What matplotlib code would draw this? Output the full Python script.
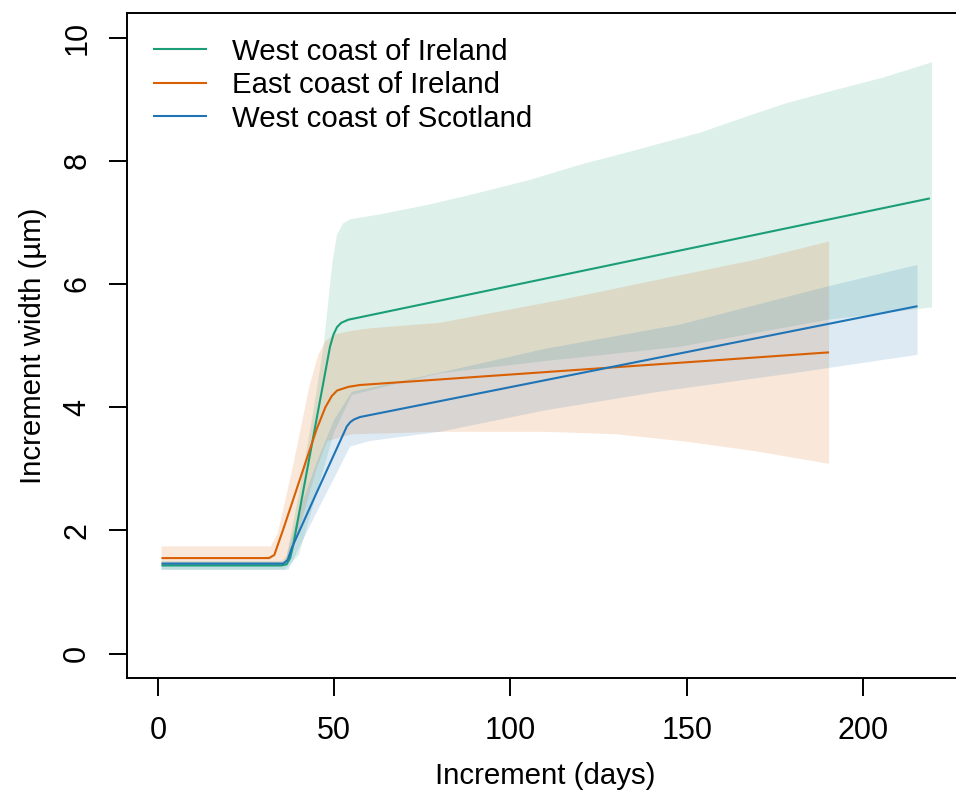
import matplotlib
matplotlib.use('Agg')
import matplotlib.pyplot as plt
import numpy as np

plt.rcParams['font.family'] = ['Liberation Sans', 'DejaVu Sans']

labels = ['West coast of Ireland', 'East coast of Ireland', 'West coast of Scotland']
colors = ['#1B9E77', '#D95F02', '#1F74B6']

# fitted curves (days, increment width in um)
days_wi = [1, 35, 36.5, 37.5, 38.3, 48.8, 49.8, 50.8, 52, 54, 219]
width_wi = [1.43, 1.43, 1.45, 1.55, 1.74, 4.98, 5.18, 5.30, 5.37, 5.42, 7.39]
days_ei = [1, 31.5, 33, 35.5, 45, 47.5, 49.3, 50.8, 54, 57.3, 190.4]
width_ei = [1.55, 1.55, 1.6, 2.01, 3.64, 4.0, 4.18, 4.27, 4.33, 4.36, 4.89]
days_ws = [1, 35.5, 36.8, 38, 45, 53.6, 54.6, 55.6, 57.3, 215.5]
width_ws = [1.46, 1.46, 1.52, 1.72, 2.61, 3.69, 3.76, 3.8, 3.84, 5.64]

# confidence bands: upper and lower edges
up_x_wi = [1, 35, 36.5, 40, 44, 47, 49.5, 50.8, 52.5, 54.5, 63, 77, 91, 105.5, 120, 134, 154, 163, 178, 191.5, 205.7, 219.6]
up_y_wi = [1.5, 1.5, 1.58, 2.6, 3.9, 5.0, 6.35, 6.8, 6.98, 7.05, 7.13, 7.29, 7.48, 7.69, 7.94, 8.15, 8.46, 8.64, 8.93, 9.14, 9.35, 9.6]
lo_x_wi = [1, 36, 40, 45, 50, 55, 80, 110, 148, 190, 219.6]
lo_y_wi = [1.36, 1.36, 1.6, 2.6, 3.6, 4.2, 4.55, 4.75, 4.98, 5.42, 5.62]

up_x_ei = [1, 32, 34, 38.3, 43, 45.5, 47.5, 50, 55, 60, 80, 115, 142, 170, 190.4]
up_y_ei = [1.74, 1.74, 1.95, 3.04, 4.35, 4.85, 5.07, 5.18, 5.24, 5.28, 5.37, 5.75, 6.07, 6.4, 6.69]
lo_x_ei = [1, 36, 40, 45, 48, 55, 80, 110, 130, 150, 170, 190.4]
lo_y_ei = [1.42, 1.42, 2.0, 3.0, 3.45, 3.56, 3.6, 3.6, 3.56, 3.44, 3.28, 3.08]

up_x_ws = [1, 36, 40, 45, 50, 55, 83, 110, 148, 190, 215.5]
up_y_ws = [1.49, 1.49, 2.3, 3.1, 3.8, 4.25, 4.6, 4.95, 5.34, 5.96, 6.31]
lo_x_ws = [1, 37, 45, 50, 54.5, 60, 80, 110, 142, 180, 215.5]
lo_y_ws = [1.36, 1.36, 2.29, 2.85, 3.36, 3.45, 3.6, 3.95, 4.25, 4.55, 4.85]

x_ticks = [0, 50, 100, 150, 200]
y_ticks = [0, 2, 4, 6, 8, 10]

fig = plt.figure(figsize=(9.56, 7.96), dpi=100)
ax = fig.add_axes([0.1328, 0.148, 0.876, 0.8357])

bands = [(up_x_wi, up_y_wi, lo_x_wi, lo_y_wi),
         (up_x_ei, up_y_ei, lo_x_ei, lo_y_ei),
         (up_x_ws, up_y_ws, lo_x_ws, lo_y_ws)]
for (ux, uy, lx, ly), c in zip(bands, colors):
    ax.fill(np.r_[ux, lx[::-1]], np.r_[uy, ly[::-1]], color=c, alpha=0.15, lw=0)

curves = [(days_wi, width_wi), (days_ei, width_ei), (days_ws, width_ws)]
for (x, y), c, lab in zip(curves, colors, labels):
    ax.plot(x, y, color=c, lw=1.5, label=lab, solid_capstyle='butt')

ax.set_xlim(-8.8, 228.8)
ax.set_ylim(-0.4, 10.4)
ax.set_xticks(x_ticks)
ax.set_yticks(y_ticks)
for s in ax.spines.values():
    s.set_linewidth(1.4)
ax.tick_params(length=13, width=1.4, labelsize=22)
ax.tick_params(axis='x', pad=14)
ax.tick_params(axis='y', pad=12, labelrotation=90)
for t in ax.get_yticklabels():
    t.set_va('center')

ax.set_xlabel('Increment (days)', fontsize=21.2, labelpad=12)
ax.set_ylabel('Increment width (\u00b5m)', fontsize=21.2, labelpad=11)

ax.legend(loc='upper left', bbox_to_anchor=(0.031, 0.963), frameon=False,
          fontsize=21.2, handlelength=1.84, handletextpad=0.85,
          labelspacing=0.19, borderpad=0, borderaxespad=0)

fig.savefig('out.png', dpi=100)
